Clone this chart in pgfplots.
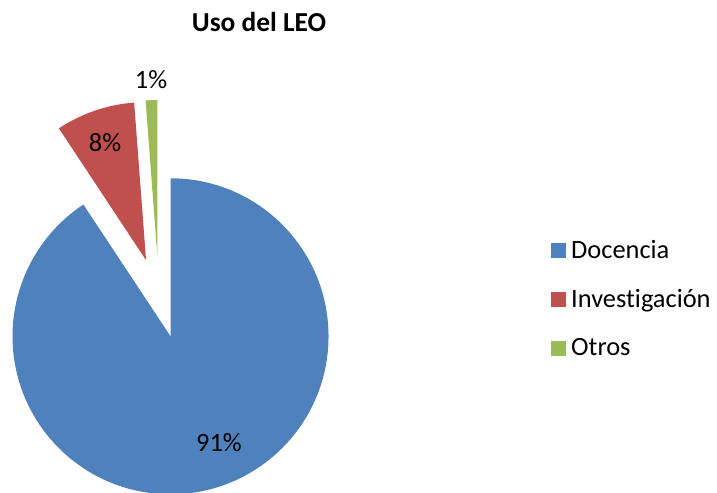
\documentclass[border=0pt]{standalone}
\usepackage{pgfplots}
\pgfplotsset{compat=1.18}
\usepackage{pgfplotstable}
\usepackage{fontspec}
\setmainfont{Carlito}[Ligatures=NoCommon]
\usetikzlibrary{calc}
\definecolor{docblue}{HTML}{4F81BD}
\definecolor{invred}{HTML}{C0504D}
\definecolor{otrgreen}{HTML}{9BBB59}
\pgfplotstableread{
value color
90.7 docblue
8.1 invred
1.2 otrgreen
}\piedata
\begin{document}
\begin{tikzpicture}
\begin{axis}[
  name=pie,
  x=1bp, y=1bp,
  xmin=0, xmax=717, ymin=0, ymax=493,
  hide axis, clip=false,
  legend style={draw=none, fill=none, at={(axis cs:551,194)}, anchor=west,
    inner sep=0pt, outer sep=0pt, row sep=25.5bp,
    font=\fontsize{26.5}{30}\selectfont, cells={anchor=west}},
  legend image code/.code={\fill[#1] (0bp,-7bp) rectangle (14bp,7bp); \path[draw=none,fill=none] (0bp,-1bp) rectangle (18bp,1bp);},
]
\addlegendimage{docblue}
\addlegendentry{Docencia}
\addlegendimage{invred}
\addlegendentry{Investigación}
\addlegendimage{otrgreen}
\addlegendentry{Otros}
\pgfplotsextra{
  \gdef\startang{90}
  \foreach \i in {0,1,2}{
    \pgfplotstablegetelem{\i}{value}\of\piedata \let\val\pgfplotsretval
    \pgfplotstablegetelem{\i}{color}\of\piedata \let\col\pgfplotsretval
    \pgfmathsetmacro\sweep{3.6*\val}
    \pgfmathsetmacro\endang{\startang-\sweep}
    \pgfmathsetmacro\midang{\startang-\sweep/2}
    \fill[\col] ($(axis cs:159,195)+(\midang:40bp)$) -- ++(\startang:158bp)
      arc[start angle=\startang, end angle=\endang, radius=158bp] -- cycle;
    \xdef\startang{\endang}
  }
}
\node[font=\fontsize{26.5}{30}\selectfont] at (axis cs:219,50) {91\%};
\node[font=\fontsize{26.5}{30}\selectfont] at (axis cs:105,350) {8\%};
\node[font=\fontsize{26.5}{30}\selectfont] at (axis cs:151,413) {1\%};
\node[font=\fontsize{27.5}{31}\selectfont\bfseries] at (axis cs:259,471) {Uso del LEO};
\end{axis}
\pgfresetboundingbox
\path (pie.south west) rectangle (pie.north east);
\end{tikzpicture}
\end{document}
